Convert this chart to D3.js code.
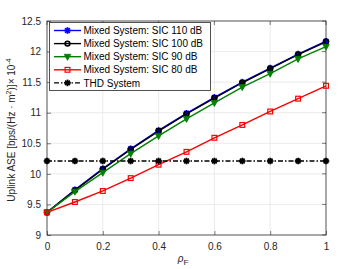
<!DOCTYPE html>
<html>
<head>
<meta charset="utf-8">
<script src="https://cdn.jsdelivr.net/npm/d3@7"></script>
<style>
body { margin: 0; background: #fff; }
text { font-family: "Liberation Sans", Arial, sans-serif; }
</style>
</head>
<body>
<svg id="chart" width="360" height="269"></svg>
<script>
// data
var rho = [0, 0.1, 0.2, 0.3, 0.4, 0.5, 0.6, 0.7, 0.8, 0.9, 1];
var sic110 = [9.37, 9.74, 10.085, 10.41, 10.71, 10.99, 11.25, 11.50, 11.73, 11.96, 12.17];
var sic100 = [9.37, 9.73, 10.075, 10.40, 10.70, 10.98, 11.24, 11.49, 11.72, 11.95, 12.16];
var sic90 = [9.37, 9.71, 10.02, 10.33, 10.62, 10.90, 11.16, 11.42, 11.64, 11.88, 12.08];
var sic80 = [9.37, 9.54, 9.72, 9.93, 10.15, 10.36, 10.59, 10.80, 11.02, 11.23, 11.44];
var thd = [10.21, 10.21, 10.21, 10.21, 10.21, 10.21, 10.21, 10.21, 10.21, 10.21, 10.21];
var xTicks = [0, 0.2, 0.4, 0.6, 0.8, 1];
var yTicks = [9, 9.5, 10, 10.5, 11, 11.5, 12, 12.5];
var names = ["Mixed System: SIC 110 dB", "Mixed System: SIC 100 dB", "Mixed System: SIC 90 dB", "Mixed System: SIC 80 dB", "THD System"];

var series = [
  {name: names[0], vals: sic110, color: "#0000ff", marker: "star", dash: null},
  {name: names[1], vals: sic100, color: "#000000", marker: "circle", dash: null},
  {name: names[2], vals: sic90, color: "#008000", marker: "tri", dash: null},
  {name: names[3], vals: sic80, color: "#ff0000", marker: "square", dash: null},
  {name: names[4], vals: thd, color: "#000000", marker: "star", dash: "5,2,1.5,2"}
];

var svg = d3.select("#chart");
var pLeft = 47, pRight = 326, pTop = 21, pBottom = 235;

var x = d3.scaleLinear().domain([0, 1]).range([pLeft, pRight]);
var y = d3.scaleLinear().domain([9, 12.5]).range([pBottom, pTop]);

// grid
svg.append("g").selectAll("line").data(xTicks.slice(1, -1)).enter().append("line")
  .attr("x1", d => x(d)).attr("x2", d => x(d)).attr("y1", pTop).attr("y2", pBottom)
  .attr("stroke", "#e6e6e6").attr("stroke-width", 0.8);
svg.append("g").selectAll("line").data(yTicks.slice(1, -1)).enter().append("line")
  .attr("x1", pLeft).attr("x2", pRight).attr("y1", d => y(d)).attr("y2", d => y(d))
  .attr("stroke", "#e6e6e6").attr("stroke-width", 0.8);

// axes, ticks pointing inwards
var xAxis = d3.axisBottom(x).tickValues(xTicks).tickSize(-4).tickPadding(8).tickFormat(d3.format("~g"));
var yAxis = d3.axisLeft(y).tickValues(yTicks).tickSize(-4).tickPadding(6).tickFormat(d3.format("~g"));
var gx = svg.append("g").attr("transform", "translate(0," + pBottom + ")").call(xAxis);
var gy = svg.append("g").attr("transform", "translate(" + pLeft + ",0)").call(yAxis);
[gx, gy].forEach(function(g) {
  g.select(".domain").remove();
  g.selectAll("line").attr("stroke", "#262626").attr("stroke-width", 0.6);
  g.selectAll("text").attr("fill", "#262626").style("font-size", "10px").style("font-family", "Liberation Sans, Arial, sans-serif");
});
// top and right ticks
svg.append("g").selectAll("line").data(xTicks).enter().append("line")
  .attr("x1", d => x(d)).attr("x2", d => x(d)).attr("y1", pTop).attr("y2", pTop + 4)
  .attr("stroke", "#262626").attr("stroke-width", 0.6);
svg.append("g").selectAll("line").data(yTicks).enter().append("line")
  .attr("x1", pRight).attr("x2", pRight - 4).attr("y1", d => y(d)).attr("y2", d => y(d))
  .attr("stroke", "#262626").attr("stroke-width", 0.6);

svg.append("rect").attr("x", pLeft).attr("y", pTop).attr("width", pRight - pLeft).attr("height", pBottom - pTop)
  .attr("fill", "none").attr("stroke", "#262626").attr("stroke-width", 0.8);

function drawMarker(g, type, color, size) {
  if (type == "circle") {
    g.append("circle").attr("r", size * 0.8).attr("fill", "none").attr("stroke", color).attr("stroke-width", 1.6);
  } else if (type == "square") {
    g.append("rect").attr("x", -size * 0.8).attr("y", -size * 0.8).attr("width", size * 1.6).attr("height", size * 1.6)
      .attr("fill", "none").attr("stroke", color).attr("stroke-width", 1.2);
  } else if (type == "tri") {
    g.append("path").attr("d", "M" + (-size * 1.1) + "," + (-size * 0.8) + "L" + (size * 1.1) + "," + (-size * 0.8) + "L0," + (size * 1.2) + "Z")
      .attr("fill", color).attr("stroke", color).attr("stroke-width", 0.8);
  } else if (type == "star") {
    for (var a = 0; a < 4; a++) {
      var ang = a * Math.PI / 4;
      g.append("line").attr("x1", -Math.cos(ang) * size * 1.1).attr("y1", -Math.sin(ang) * size * 1.1)
        .attr("x2", Math.cos(ang) * size * 1.1).attr("y2", Math.sin(ang) * size * 1.1)
        .attr("stroke", color).attr("stroke-width", 1.8);
    }
    g.append("circle").attr("r", size * 0.55).attr("fill", color);
  }
}

var line = d3.line().x((d, i) => x(rho[i])).y(d => y(d));

series.forEach(function(s) {
  svg.append("path").datum(s.vals).attr("d", line)
    .attr("fill", "none").attr("stroke", s.color).attr("stroke-width", 1.4)
    .attr("stroke-dasharray", s.dash);
  s.vals.forEach(function(v, i) {
    var g = svg.append("g").attr("transform", "translate(" + x(rho[i]) + "," + y(v) + ")");
    drawMarker(g, s.marker, s.color, 3);
  });
});

// legend
var lg = svg.append("g");
lg.append("rect").attr("x", 49.5).attr("y", 22.5).attr("width", 161).attr("height", 68)
  .attr("fill", "#fff").attr("stroke", "#262626").attr("stroke-width", 0.8);
series.forEach(function(s, i) {
  var ly = 30.5 + i * 13.1;
  lg.append("line").attr("x1", 54).attr("x2", 81).attr("y1", ly).attr("y2", ly)
    .attr("stroke", s.color).attr("stroke-width", 1.4).attr("stroke-dasharray", s.dash);
  drawMarker(lg.append("g").attr("transform", "translate(67.5," + ly + ")"), s.marker, s.color, 3);
  lg.append("text").attr("x", 83.5).attr("y", ly + 3.6).text(s.name)
    .style("font-size", "10px").attr("fill", "#000");
});

// axis labels
var yl = svg.append("text").attr("transform", "translate(15," + ((pTop + pBottom) / 2 + 2) + ") rotate(-90)")
  .attr("text-anchor", "middle").style("font-size", "10px").attr("fill", "#262626");
yl.append("tspan").text("Uplink ASE [bps/(Hz \u00b7 m");
yl.append("tspan").text("2").attr("dy", -4).style("font-size", "7px");
yl.append("tspan").text(")]\u00d7 10").attr("dy", 4);
yl.append("tspan").text("-4").attr("dy", -4).style("font-size", "7px");

var xl = svg.append("text").attr("x", 183).attr("y", 262).attr("text-anchor", "middle")
  .style("font-size", "10px").attr("fill", "#262626");
xl.append("tspan").text("\u03c1").style("font-style", "italic");
xl.append("tspan").text("F").attr("dy", 3).style("font-size", "8px");
</script>
</body>
</html>
